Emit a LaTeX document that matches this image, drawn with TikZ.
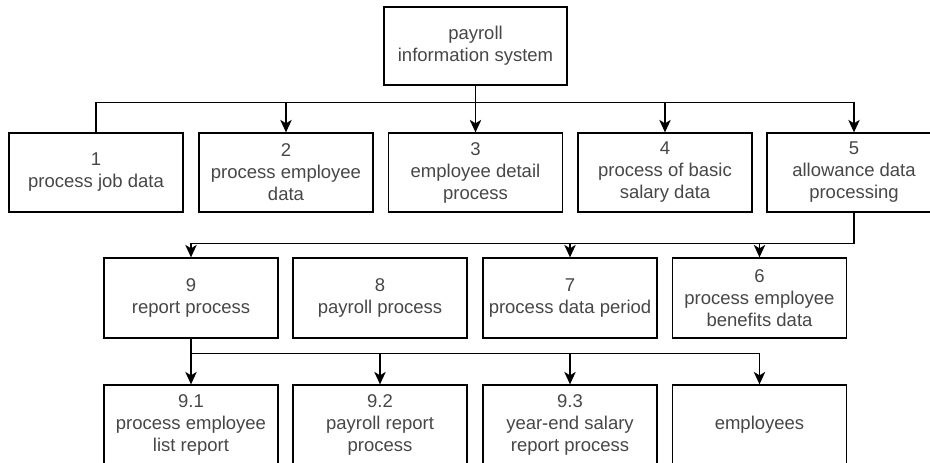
\documentclass[tikz,border=0pt]{standalone}
\usepackage{fontspec}
\setmainfont{Liberation Sans}
\usetikzlibrary{arrows.meta}
\begin{document}
\begin{tikzpicture}[x=1pt,y=-1pt,
  box/.style={draw=black, line width=1.3pt, fill=white, rectangle, inner sep=0pt,
    minimum width=174pt, minimum height=79pt, align=center, text=black!72,
    font=\fontsize{18.5}{22}\selectfont},
  link/.style={draw=black, line width=1.3pt},
  arr/.style={link, -{Stealth[length=12.5pt,width=11.5pt,inset=3.5pt]}}]
\clip (0,0) rectangle (930,463);
\fill[white] (0,0) rectangle (930,463);
% top
\node[box, minimum width=183pt, minimum height=78pt] (top) at (475.5,46) {payroll\\information system};
% row 1
\node[box] (n1) at (96,172.5) {1\\process job data};
\node[box] (n2) at (286,172.5) {2\\process employee\\data};
\node[box] (n3) at (475.5,172.5) {3\\employee detail\\process};
\node[box] (n4) at (665,172.5) {4\\process of basic\\salary data};
\node[box] (n5) at (854,172.5) {5\\allowance data\\processing};
% row 2
\node[box, minimum height=80pt] (n9) at (191,298) {9\\report process};
\node[box, minimum height=80pt] (n8) at (380,298) {8\\payroll process};
\node[box, minimum height=80pt] (n7) at (570,298) {7\\process data period};
\node[box, minimum height=80pt] (n6) at (759.5,298) {6\\process employee\\benefits data};
% row 3
\node[box, minimum height=80pt] (n91) at (191,425) {9.1\\process employee\\list report};
\node[box, minimum height=80pt] (n92) at (380,425) {9.2\\payroll report\\process};
\node[box, minimum height=80pt] (n93) at (570,425) {9.3\\year-end salary\\report process};
\node[box, minimum height=80pt] (emp) at (759.5,425) {employees};
% connectors top -> row 1
\draw[link] (top.south) -- ++(0,17) -| (n1.north);
\draw[arr] (top.south) -- ++(0,17) -| (n2.north);
\draw[arr] (top.south) -- (n3.north);
\draw[arr] (top.south) -- ++(0,17) -| (n4.north);
\draw[arr] (top.south) -- ++(0,17) -| (n5.north);
% connectors 5 -> row 2
\draw[arr] (n5.south) -- ++(0,31) -| (n9.north);
\draw[arr] (n5.south) -- ++(0,31) -| (n7.north);
\draw[arr] (n5.south) -- ++(0,31) -| (n6.north);
% connectors 9 -> row 3
\draw[arr] (n9.south) -- (n91.north);
\draw[arr] (n9.south) -- ++(0,15) -| (n92.north);
\draw[arr] (n9.south) -- ++(0,15) -| (n93.north);
\draw[arr] (n9.south) -- ++(0,15) -| (emp.north);
\end{tikzpicture}
\end{document}
